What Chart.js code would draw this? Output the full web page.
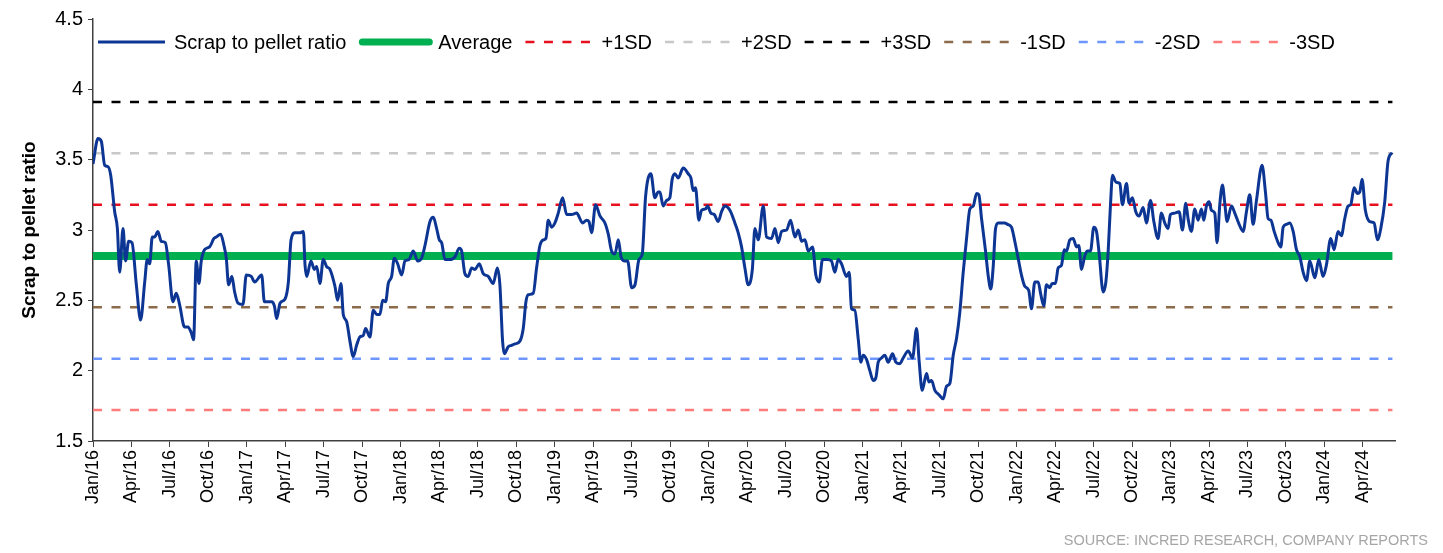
<!DOCTYPE html>
<html>
<head>
<meta charset="utf-8">
<script src="https://cdn.jsdelivr.net/npm/chart.js@4.4.1/dist/chart.umd.min.js"></script>
<style>
  body { margin: 0; background: #fff; }
  #wrap { position: relative; width: 1443px; height: 553px; }
  #source {
    position: absolute; right: 15px; top: 532px;
    font: 14.5px "Liberation Sans", Arial, sans-serif; color: #a6a6a6;
  }
</style>
</head>
<body>
<div id="wrap">
  <canvas id="chart" width="1443" height="553"></canvas>
  <div id="source">SOURCE: INCRED RESEARCH, COMPANY REPORTS</div>
</div>
<script>
// quarterly tick labels, one every 3 months from Jan/16
const tickLabels = ['Jan/16', 'Apr/16', 'Jul/16', 'Oct/16', 'Jan/17', 'Apr/17', 'Jul/17', 'Oct/17',
  'Jan/18', 'Apr/18', 'Jul/18', 'Oct/18', 'Jan/19', 'Apr/19', 'Jul/19', 'Oct/19',
  'Jan/20', 'Apr/20', 'Jul/20', 'Oct/20', 'Jan/21', 'Apr/21', 'Jul/21', 'Oct/21',
  'Jan/22', 'Apr/22', 'Jul/22', 'Oct/22', 'Jan/23', 'Apr/23', 'Jul/23', 'Oct/23',
  'Jan/24', 'Apr/24'];

// months since Jan/16
const months = [0.00, 0.39, 0.65, 0.91, 1.17, 1.38, 1.69, 1.90, 2.08, 2.34, 2.54, 2.78, 3.04, 3.38, 3.71,
  4.03, 4.23, 4.42, 4.62, 4.80, 5.06, 5.32, 5.64, 5.90, 6.23, 6.49, 6.75, 7.14, 7.40, 7.66, 7.84,
  8.05, 8.26, 8.44, 8.70, 9.09, 9.43, 9.61, 9.95, 10.21, 10.39, 10.57, 10.83, 11.04, 11.30, 11.69,
  11.95, 12.34, 12.60, 13.15, 13.36, 13.93, 14.14, 14.32, 14.58, 14.97, 15.23, 15.44, 15.75, 16.14,
  16.40, 16.53, 16.66, 16.99, 17.25, 17.44, 17.69, 17.95, 18.21, 18.47, 18.86, 19.07, 19.33, 19.51,
  19.77, 20.03, 20.29, 20.55, 20.81, 21.07, 21.25, 21.59, 21.85, 22.11, 22.37, 22.58, 22.81, 23.02,
  23.28, 23.49, 23.75, 24.06, 24.32, 24.63, 24.97, 25.31, 25.62, 25.88, 26.27, 26.53, 26.79, 27.00,
  27.18, 27.44, 27.83, 28.22, 28.56, 28.74, 28.99, 29.25, 29.52, 29.78, 30.11, 30.42, 30.81, 31.20,
  31.52, 31.72, 31.93, 32.06, 32.37, 32.63, 32.89, 33.28, 33.54, 33.75, 33.93, 34.32, 34.58, 34.84,
  35.10, 35.31, 35.49, 35.75, 36.01, 36.27, 36.61, 36.92, 37.31, 37.70, 38.17, 38.48, 38.66, 38.87,
  39.18, 39.52, 39.91, 40.17, 40.43, 40.69, 40.95, 41.16, 41.42, 41.68, 41.99, 42.25, 42.56, 42.82,
  43.08, 43.49, 43.80, 44.06, 44.19, 44.45, 44.71, 44.97, 45.15, 45.36, 45.62, 46.01, 46.40, 46.61,
  46.79, 46.97, 47.23, 47.44, 47.75, 47.91, 48.17, 48.43, 48.74, 49.00, 49.26, 49.65, 50.04, 50.30,
  50.56, 50.82, 51.08, 51.40, 51.60, 51.86, 52.25, 52.51, 52.90, 53.16, 53.42, 53.68, 54.07, 54.38,
  54.72, 54.98, 55.24, 55.50, 55.76, 56.09, 56.35, 56.61, 56.87, 57.24, 57.57, 57.83, 58.09, 58.35,
  58.74, 58.95, 59.13, 59.39, 59.65, 59.86, 60.04, 60.30, 60.56, 60.82, 61.03, 61.21, 61.47, 61.73,
  61.99, 62.33, 62.59, 62.90, 63.16, 63.55, 63.89, 64.20, 64.41, 64.64, 64.98, 65.16, 65.37, 65.63,
  65.94, 66.28, 66.54, 66.80, 67.06, 67.32, 67.58, 67.84, 68.10, 68.36, 68.62, 68.88, 69.06, 69.27,
  69.58, 69.78, 69.99, 70.17, 70.36, 70.56, 70.82, 71.08, 71.29, 71.60, 71.86, 72.12, 72.38, 72.64,
  72.95, 73.16, 73.42, 73.68, 73.89, 74.12, 74.33, 74.59, 74.77, 75.03, 75.24, 75.50, 75.71, 75.89,
  76.15, 76.41, 76.67, 76.85, 77.06, 77.30, 77.50, 77.76, 78.02, 78.23, 78.44, 78.75, 78.96, 79.14,
  79.32, 79.48, 79.74, 80.05, 80.25, 80.57, 80.77, 81.03, 81.29, 81.55, 81.87, 82.12, 82.44, 82.70,
  83.03, 83.29, 83.55, 83.81, 83.99, 84.33, 84.67, 84.93, 85.19, 85.37, 85.63, 85.89, 86.15, 86.41,
  86.59, 86.80, 87.01, 87.19, 87.45, 87.63, 87.84, 88.05, 88.23, 88.41, 88.75, 89.01, 89.35, 89.66,
  89.92, 90.18, 90.44, 90.70, 91.14, 91.40, 91.61, 91.82, 92.08, 92.39, 92.60, 92.78, 93.04, 93.30,
  93.56, 93.82, 94.08, 94.34, 94.60, 94.86, 95.25, 95.56, 95.89, 96.15, 96.49, 96.75, 97.06, 97.32,
  97.58, 97.84, 98.05, 98.31, 98.57, 98.75, 98.93, 99.19, 99.53, 99.87, 100.13, 100.39, 100.70,
  100.96, 101.27];

const ratio = [3.47, 3.65, 3.63, 3.46, 3.45, 3.39, 3.13, 3.01, 2.70, 3.01, 2.78, 2.92, 2.91, 2.61, 2.36,
  2.63, 2.79, 2.76, 2.95, 2.95, 2.99, 2.92, 2.91, 2.75, 2.49, 2.55, 2.47, 2.31, 2.31, 2.27, 2.22,
  2.78, 2.62, 2.78, 2.86, 2.88, 2.94, 2.95, 2.97, 2.89, 2.80, 2.61, 2.67, 2.56, 2.48, 2.47,
  2.68, 2.67, 2.63, 2.68, 2.49, 2.49, 2.46, 2.37, 2.48, 2.51, 2.63, 2.93, 2.98, 2.98,
  2.99, 2.75, 2.67, 2.78, 2.72, 2.74, 2.62, 2.79, 2.74, 2.72, 2.60, 2.50, 2.62, 2.40,
  2.35, 2.21, 2.10, 2.18, 2.24, 2.25, 2.30, 2.24, 2.43, 2.40, 2.40, 2.50, 2.49, 2.62,
  2.67, 2.80, 2.76, 2.68, 2.78, 2.79, 2.85, 2.78, 2.80, 2.89, 3.06, 3.09, 3.01, 2.93,
  2.91, 2.79, 2.79, 2.81, 2.87, 2.85, 2.69, 2.67, 2.73, 2.72, 2.76, 2.69, 2.67, 2.62,
  2.73, 2.61, 2.21, 2.12, 2.17, 2.18, 2.19, 2.21, 2.30, 2.49, 2.54, 2.55, 2.73, 2.89,
  2.93, 2.94, 3.07, 3.02, 3.05, 3.12, 3.23, 3.11, 3.11, 3.12, 3.05, 3.07, 3.06, 2.98,
  3.18, 3.10, 3.05, 2.97, 2.85, 2.83, 2.93, 2.81, 2.78, 2.78, 2.59, 2.61, 2.79, 2.83,
  3.24, 3.40, 3.23, 3.27, 3.27, 3.17, 3.21, 3.23, 3.36, 3.40, 3.37, 3.44, 3.40, 3.37,
  3.28, 3.30, 3.07, 3.14, 3.15, 3.17, 3.12, 3.11, 3.06, 3.13, 3.17, 3.14, 3.05, 2.98,
  2.88, 2.73, 2.61, 2.72, 3.01, 2.93, 3.17, 2.95, 2.94, 3.01, 2.91, 2.99, 3.00, 3.07,
  2.95, 3.00, 2.92, 2.93, 2.85, 2.88, 2.68, 2.63, 2.79, 2.79, 2.78, 2.70, 2.79, 2.76,
  2.67, 2.70, 2.44, 2.43, 2.23, 2.06, 2.11, 2.08, 2.00, 1.93, 1.95, 2.06, 2.09, 2.11,
  2.06, 2.12, 2.06, 2.05, 2.09, 2.14, 2.09, 2.30, 2.06, 1.86, 1.98, 1.92, 1.93, 1.86,
  1.83, 1.80, 1.89, 1.91, 2.11, 2.23, 2.42, 2.70, 2.94, 3.15, 3.17, 3.26, 3.25, 3.08,
  2.85, 2.68, 2.58, 2.73, 3.01, 3.05, 3.05, 3.05, 3.04, 3.02, 2.92, 2.80, 2.68, 2.60,
  2.57, 2.44, 2.63, 2.63, 2.54, 2.46, 2.61, 2.59, 2.62, 2.62, 2.73, 2.75, 2.86, 2.85,
  2.93, 2.94, 2.88, 2.89, 2.72, 2.81, 2.85, 2.85, 3.02, 2.99, 2.83, 2.56, 2.63, 2.85,
  3.18, 3.39, 3.34, 3.33, 3.18, 3.33, 3.19, 3.23, 3.13, 3.10, 3.16, 3.05, 3.21, 3.06,
  2.94, 3.12, 3.05, 3.01, 3.11, 3.12, 3.13, 3.00, 3.19, 3.08, 2.99, 3.15, 3.07, 3.15,
  3.07, 3.17, 3.20, 3.14, 3.12, 2.91, 3.18, 3.32, 3.19, 3.06, 3.17, 3.12, 3.04, 2.99,
  3.13, 3.25, 3.04, 3.21, 3.46, 3.27, 3.08, 3.07, 2.99, 2.91, 2.88, 3.02, 3.04, 3.05,
  2.99, 2.86, 2.81, 2.70, 2.64, 2.78, 2.66, 2.79, 2.67, 2.75, 2.94, 2.86, 2.99, 2.96,
  3.08, 3.17, 3.18, 3.30, 3.26, 3.27, 3.36, 3.14, 3.06, 3.05, 2.93, 3.01, 3.20,
  3.49, 3.55];

// average and standard-deviation bands
const bandLabels = ['Average', '+1SD', '+2SD', '+3SD', '-1SD', '-2SD', '-3SD'];
const bandValues = [2.815, 3.18, 3.545, 3.91, 2.45, 2.085, 1.72];
const bandSpan = [0, 101.3];

const bandColors = ['#00b050', '#e8101e', '#c8c8c8', '#000000', '#8c6b4b', '#6e96ff', '#ff7b7b'];

const datasets = [{
    label: 'Scrap to pellet ratio',
    data: months.map((m, i) => ({ x: m, y: ratio[i] })),
    borderColor: '#0d3694',
    borderWidth: 3,
    pointRadius: 0,
    cubicInterpolationMode: 'monotone'
}];

bandLabels.forEach((label, i) => {
    const isAvg = i === 0;
    datasets.push({
        label: label,
        data: bandSpan.map(x => ({ x: x, y: bandValues[i] })),
        borderColor: bandColors[i],
        borderWidth: isAvg ? 8 : 2.5,
        borderDash: isAvg ? [] : [9, 9.5],
        pointRadius: 0
    });
});

// legend drawn inside the plot, as in the original
const insideLegend = {
    id: 'insideLegend',
    afterDraw(chart) {
        const ctx = chart.ctx;
        const y = 42;
        let x = 98;
        ctx.save();
        ctx.font = '20px "Liberation Sans", Arial, sans-serif';
        ctx.textBaseline = 'middle';
        chart.data.datasets.forEach((ds, i) => {
            const isAvg = i === 1;
            ctx.beginPath();
            ctx.strokeStyle = ds.borderColor;
            ctx.lineWidth = isAvg ? 7 : ds.borderWidth;
            ctx.lineCap = isAvg ? 'round' : 'butt';
            ctx.setLineDash(ds.borderDash || []);
            ctx.moveTo(isAvg ? x + 3 : x, y);
            ctx.lineTo(isAvg ? x + 70 : x + 67, y);
            ctx.stroke();
            ctx.setLineDash([]);
            ctx.fillStyle = '#000';
            const tx = isAvg ? x + 79 : x + 76;
            ctx.fillText(ds.label, tx, y + 1);
            x = tx + ctx.measureText(ds.label).width + 13;
        });
        ctx.restore();
    }
};

Chart.defaults.font.family = '"Liberation Sans", Arial, sans-serif';
Chart.defaults.color = '#000';

new Chart(document.getElementById('chart'), {
    type: 'line',
    data: { datasets: datasets },
    options: {
        responsive: false,
        animation: false,
        layout: { padding: { left: 0, top: 19, right: 48, bottom: 0 } },
        plugins: {
            legend: { display: false },
            tooltip: { enabled: false }
        },
        scales: {
            x: {
                type: 'linear',
                min: 0,
                max: 101.5,
                afterBuildTicks: scale => {
                    scale.ticks = tickLabels.map((_, i) => ({ value: i * 3 }));
                },
                afterFit: scale => { scale.height = 112; },
                ticks: {
                    autoSkip: false,
                    minRotation: 90,
                    maxRotation: 90,
                    padding: 3,
                    font: { size: 18 },
                    callback: value => tickLabels[Math.round(value / 3)]
                },
                grid: { drawOnChartArea: false, tickLength: 6, color: '#404040' },
                border: { color: '#404040', width: 1.5 }
            },
            y: {
                min: 1.5,
                max: 4.5,
                afterFit: scale => { scale.width = 93; },
                ticks: {
                    stepSize: 0.5,
                    padding: 5,
                    font: { size: 20 },
                    callback: value => String(value)
                },
                grid: { drawOnChartArea: false, tickLength: 5, color: '#404040' },
                border: { color: '#404040', width: 1.5 },
                title: {
                    display: true,
                    text: 'Scrap to pellet ratio',
                    font: { size: 19, weight: 'bold' },
                    padding: { top: 18, bottom: 0 }
                }
            }
        }
    },
    plugins: [insideLegend]
});
</script>
</body>
</html>
